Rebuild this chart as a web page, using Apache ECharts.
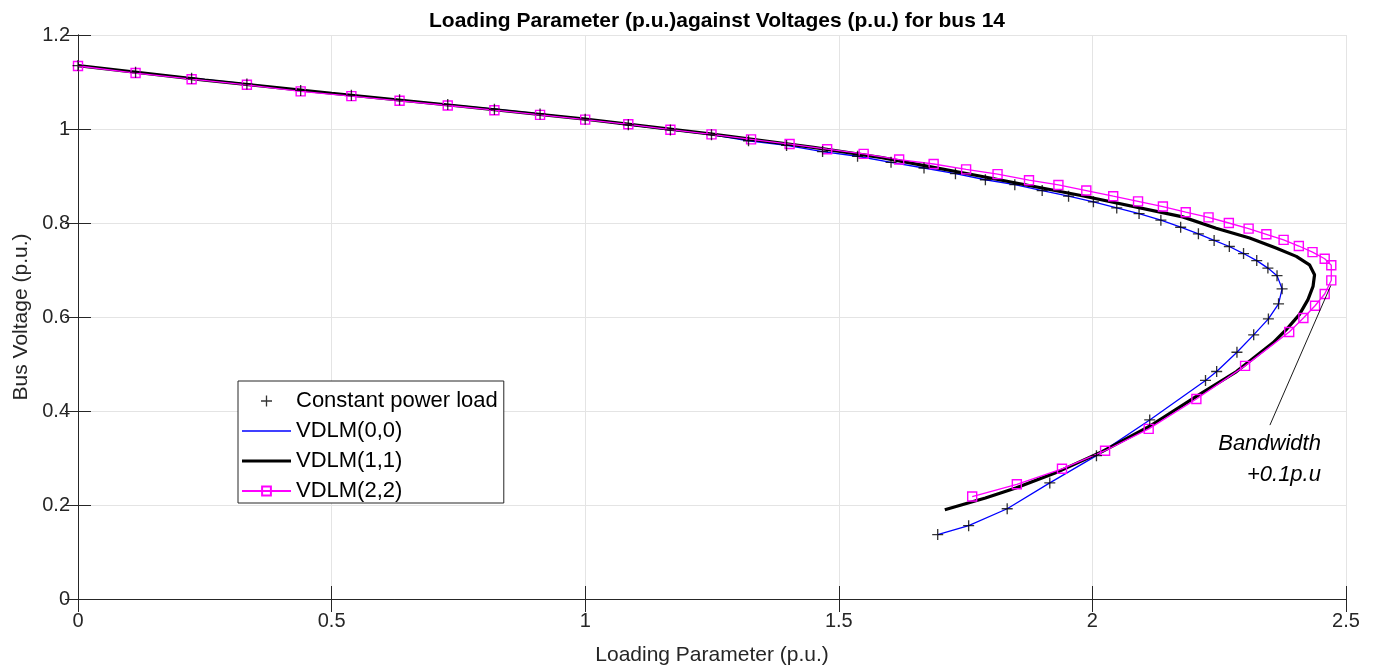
<!DOCTYPE html>
<html>
<head>
<meta charset="utf-8">
<title>Loading Parameter against Voltages for bus 14</title>
<script src="https://cdn.jsdelivr.net/npm/echarts@6/dist/echarts.min.js"></script>
<style>
  html, body { margin: 0; padding: 0; background: #fff; }
  #chart { width: 1374px; height: 666px; }
</style>
</head>
<body>
<div id="chart"></div>
<script>
// constant power load (crosses), the VDLM(0,0) blue line runs through the same points
const cplX = [0, 0.1135, 0.224, 0.333, 0.439, 0.539, 0.634, 0.729, 0.821, 0.911,
  1.0, 1.085, 1.168, 1.249, 1.322, 1.397, 1.468, 1.537, 1.603, 1.668,
  1.730, 1.789, 1.847, 1.901, 1.953, 2.002, 2.048, 2.092, 2.135, 2.174,
  2.209, 2.240, 2.270, 2.298, 2.324, 2.346, 2.364, 2.374, 2.367, 2.347,
  2.318, 2.285, 2.245, 2.223, 2.113, 2.008, 1.916, 1.832, 1.756, 1.695];
const cplY = [1.135, 1.121, 1.108, 1.096, 1.082, 1.072, 1.062, 1.052, 1.042, 1.032,
  1.021, 1.009, 0.998, 0.988, 0.975, 0.965, 0.952, 0.942, 0.929, 0.917,
  0.905, 0.892, 0.8815, 0.869, 0.857, 0.845, 0.832, 0.820, 0.806, 0.791,
  0.777, 0.763, 0.750, 0.735, 0.720, 0.704, 0.688, 0.660, 0.628, 0.596,
  0.562, 0.525, 0.484, 0.465, 0.381, 0.305, 0.247, 0.192, 0.156, 0.137];

// VDLM(1,1) thick black curve
const v11X = [0, 0.25, 0.5, 0.75, 1.0, 1.25, 1.45, 1.585, 1.783, 1.98,
  2.178, 2.244, 2.31, 2.362, 2.402, 2.428, 2.438, 2.435, 2.425, 2.408,
  2.382, 2.356, 2.284, 2.205, 2.112, 2.020, 1.934, 1.849, 1.789, 1.709];
const v11Y = [1.135, 1.104, 1.076, 1.049, 1.021, 0.989, 0.961, 0.939, 0.899, 0.858,
  0.813, 0.789, 0.768, 0.747, 0.729, 0.711, 0.690, 0.665, 0.637, 0.605,
  0.573, 0.545, 0.484, 0.431, 0.367, 0.314, 0.2715, 0.236, 0.215, 0.190];

// VDLM(2,2) magenta squares
const v22X = [0, 0.1135, 0.224, 0.333, 0.439, 0.539, 0.634, 0.729, 0.821, 0.911,
  1.0, 1.085, 1.168, 1.249, 1.327, 1.403, 1.477, 1.549, 1.619, 1.687,
  1.751, 1.813, 1.875, 1.933, 1.988, 2.041, 2.090, 2.139, 2.184, 2.229,
  2.269, 2.308, 2.343, 2.377, 2.407, 2.434, 2.458, 2.471, 2.471, 2.458,
  2.439, 2.416, 2.388, 2.301, 2.205, 2.111, 2.025, 1.940, 1.851, 1.763];
const v22Y = [1.134, 1.119, 1.106, 1.094, 1.080, 1.070, 1.060, 1.050, 1.040, 1.030,
  1.020, 1.010, 0.9985, 0.9885, 0.978, 0.968, 0.957, 0.947, 0.935, 0.9255,
  0.914, 0.904, 0.891, 0.881, 0.869, 0.857, 0.846, 0.835, 0.823, 0.812,
  0.800, 0.788, 0.776, 0.764, 0.751, 0.738, 0.724, 0.710, 0.678, 0.649,
  0.624, 0.598, 0.568, 0.496, 0.4255, 0.362, 0.3155, 0.277, 0.244, 0.218];

// annotation arrow (tail -> head) and text anchor, in data units
const arrowFrom = [2.35, 0.37];
const arrowTo = [2.47, 0.667];
const noteAt = [2.4506, 0.297];

const seriesNames = ['Constant power load', 'VDLM(0,0)', 'VDLM(1,1)', 'VDLM(2,2)'];

const pairs = (xs, ys) => xs.map((x, i) => [x, ys[i]]);

const axisColor = '#262626';
const fontFamily = 'Liberation Sans, Arial, Helvetica, sans-serif';
const plusPath = 'path://M4.4,0H5.6V4.4H10V5.6H5.6V10H4.4V5.6H0V4.4H4.4Z';

const chart = echarts.init(document.getElementById('chart'));

// secondary axes only draw the box ticks (top / right)
const boxX = {
  type: 'value', min: 0, max: 2.5, interval: 0.5, position: 'top',
  axisLine: { show: true, lineStyle: { color: axisColor, width: 1 } },
  axisTick: { show: true, inside: true, length: 13, lineStyle: { color: axisColor } },
  axisLabel: { show: false }, splitLine: { show: false }
};
const boxY = {
  type: 'value', min: 0, max: 1.2, interval: 0.2, position: 'right',
  axisLine: { show: true, lineStyle: { color: axisColor, width: 1 } },
  axisTick: { show: true, inside: true, length: 13, lineStyle: { color: axisColor } },
  axisLabel: { show: false }, splitLine: { show: false }
};

const option = {
  animation: false,
  backgroundColor: '#ffffff',
  textStyle: { fontFamily: fontFamily },
  title: {
    text: 'Loading Parameter (p.u.)against Voltages (p.u.) for bus 14',
    left: 712, top: 6, textAlign: 'center',
    textStyle: { fontSize: 21, fontWeight: 'bold', color: '#000', fontFamily: fontFamily }
  },
  grid: { left: 78, right: 28, top: 35, bottom: 67, containLabel: false, outerBoundsMode: 'none' },
  legend: {
    orient: 'vertical',
    left: 238, top: 381,
    padding: [9, 6, 1, 3],
    itemWidth: 49, itemHeight: 11, itemGap: 8,
    backgroundColor: '#ffffff',
    borderColor: axisColor, borderWidth: 1,
    textStyle: { fontSize: 22, color: '#000', fontFamily: fontFamily },
    data: [
      { name: seriesNames[0] },
      { name: seriesNames[1], icon: 'path://M0,0H40V1.2H0Z' },
      { name: seriesNames[2], icon: 'path://M0,0H40V2.5H0Z' },
      { name: seriesNames[3] }
    ]
  },
  xAxis: [{
    type: 'value', min: 0, max: 2.5, interval: 0.5,
    name: 'Loading Parameter (p.u.)', nameLocation: 'middle', nameGap: 46,
    nameTextStyle: { fontSize: 21, color: axisColor },
    axisLine: { show: true, onZero: false, lineStyle: { color: axisColor, width: 1 } },
    axisTick: { show: true, inside: true, length: 13, lineStyle: { color: axisColor } },
    axisLabel: { fontSize: 20, color: axisColor, margin: 12 },
    splitLine: { show: true, lineStyle: { color: '#e4e4e4', width: 1 } }
  }, boxX],
  yAxis: [{
    type: 'value', min: 0, max: 1.2, interval: 0.2,
    name: 'Bus Voltage (p.u.)', nameLocation: 'middle', nameGap: 45,
    nameTextStyle: { fontSize: 21, color: axisColor },
    axisLine: { show: true, onZero: false, lineStyle: { color: axisColor, width: 1 } },
    axisTick: { show: true, inside: true, length: 13, lineStyle: { color: axisColor } },
    axisLabel: { fontSize: 20, color: axisColor, margin: 8 },
    splitLine: { show: true, lineStyle: { color: '#e4e4e4', width: 1 } }
  }, boxY],
  series: [
    {
      name: 'VDLM(0,0)', type: 'line', data: pairs(cplX, cplY),
      symbol: 'none', color: '#0000ff',
      lineStyle: { color: '#0000ff', width: 1.3 }, z: 2
    },
    {
      name: 'VDLM(1,1)', type: 'line', data: pairs(v11X, v11Y),
      symbol: 'none', color: '#000000',
      lineStyle: { color: '#000000', width: 3.2 }, z: 3
    },
    {
      name: 'VDLM(2,2)', type: 'line', data: pairs(v22X, v22Y),
      symbol: 'rect', symbolSize: 9, color: '#ff00ff',
      lineStyle: { color: '#ff00ff', width: 1.3 },
      itemStyle: { color: 'rgba(255,255,255,0)', borderColor: '#ff00ff', borderWidth: 1.4 },
      z: 4,
      markLine: {
        silent: true,
        symbol: ['none', 'arrow'],
        symbolSize: [0, 17],
        label: { show: false },
        lineStyle: { color: '#000', width: 0.9, type: 'solid' },
        data: [[{ coord: arrowFrom }, { coord: arrowTo }]]
      },
      markPoint: {
        silent: true,
        symbolSize: 0,
        label: {
          show: true, position: 'left', distance: 0,
          formatter: 'Bandwidth\n+0.1p.u',
          align: 'right', verticalAlign: 'middle',
          fontSize: 22, fontStyle: 'italic', lineHeight: 31,
          color: '#000', fontFamily: fontFamily
        },
        data: [{ coord: noteAt }]
      }
    },
    {
      name: 'Constant power load', type: 'scatter', data: pairs(cplX, cplY),
      symbol: plusPath, symbolSize: 11, color: '#000000',
      itemStyle: { color: '#000000' }, z: 5
    }
  ]
};

chart.setOption(option);
</script>
</body>
</html>
